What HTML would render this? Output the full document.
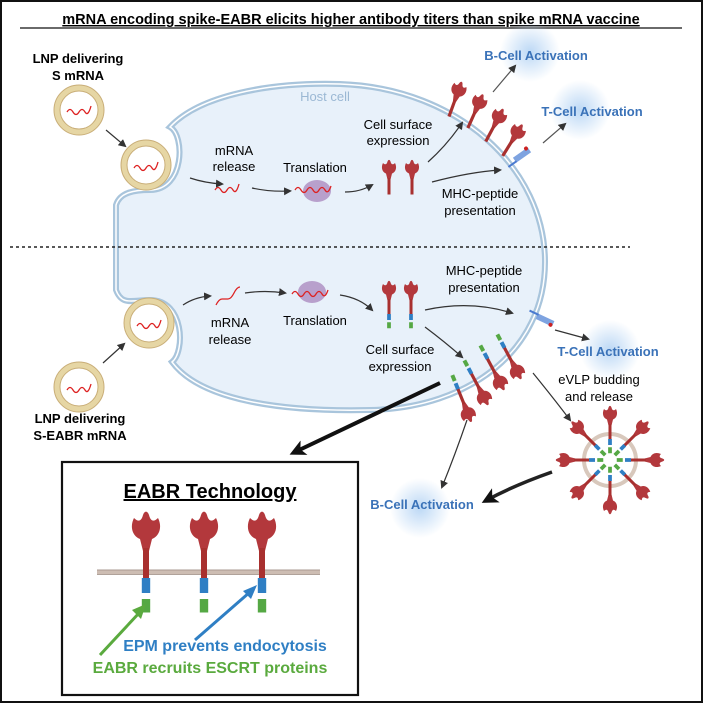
<!DOCTYPE html><html><head><meta charset="utf-8"><style>body{margin:0;background:#fff}svg{display:block}text{font-family:"Liberation Sans",sans-serif}</style></head><body>
<svg width="703" height="703" viewBox="0 0 703 703" xmlns="http://www.w3.org/2000/svg">
<defs>
<radialGradient id="gl"><stop offset="0" stop-color="#bcd8f5"/><stop offset="1" stop-color="#bcd8f5" stop-opacity="0"/></radialGradient>
<marker id="ah" markerWidth="8" markerHeight="8" refX="6" refY="4" orient="auto" markerUnits="userSpaceOnUse"><path d="M0,0L8,4L0,8z" fill="#333"/></marker>
<marker id="ahb" markerWidth="16" markerHeight="16" refX="10" refY="8" orient="auto" markerUnits="userSpaceOnUse"><path d="M0,0L16,8L0,16L4,8z" fill="#111"/></marker>
<g id="head"><path d="M-8,-20 C-11,-14 -9,-8 -4,-6 L-2,2 L2,2 L4,-6 C9,-8 11,-14 8,-20 C5,-17 3,-18 2,-22 C1,-25 -1,-25 -2,-22 C-3,-18 -5,-17 -8,-20Z" fill="#b3383c"/></g>
<g id="sp"><use href="#head"/><rect x="-2" y="0" width="4" height="22" fill="#a8302f"/></g>
<g id="spe"><use href="#head"/><rect x="-2" y="0" width="4" height="22" fill="#a8302f"/><rect x="-2.5" y="20" width="5" height="8" fill="#2f7fc4"/><rect x="-2.5" y="31" width="5" height="8" fill="#55a844"/></g>
<g id="lnp"><circle r="22" fill="#fff" stroke="#e6d6a4" stroke-width="6"/><circle r="25" fill="none" stroke="#c9ae78" stroke-width="1"/><circle r="19" fill="none" stroke="#c9ae78" stroke-width="1"/></g>
</defs>
<rect x="1" y="1" width="701" height="701" fill="#fff" stroke="#111" stroke-width="2"/>
<text x="351" y="24" font-size="14.5" font-weight="bold" text-anchor="middle" text-decoration="underline">mRNA encoding spike-EABR elicits higher antibody titers than spike mRNA vaccine</text>
<line x1="20" y1="28" x2="682" y2="28" stroke="#111" stroke-width="1.3"/>
<path id="cell" d="M170,127 C200,95 270,82 340,84 C460,88 545,170 545,262 C545,350 470,408 370,410 C280,412 200,400 172,362 C185,352 185,300 150,300 C132,300 122,306 116,290 L116,205 C120,192 135,190 150,190 C185,190 185,135 170,127Z" fill="#e8f1fa" stroke="#a9c5dc" stroke-width="6"/>
<path d="M170,127 C200,95 270,82 340,84 C460,88 545,170 545,262 C545,350 470,408 370,410 C280,412 200,400 172,362 C185,352 185,300 150,300 C132,300 122,306 116,290 L116,205 C120,192 135,190 150,190 C185,190 185,135 170,127Z" fill="none" stroke="#fff" stroke-width="1.5"/>
<line x1="10" y1="247" x2="630" y2="247" stroke="#222" stroke-width="1.5" stroke-dasharray="3,3"/>
<circle cx="530" cy="52" r="30" fill="url(#gl)"/><circle cx="580" cy="110" r="30" fill="url(#gl)"/><circle cx="610" cy="350" r="30" fill="url(#gl)"/><circle cx="420" cy="508" r="30" fill="url(#gl)"/>
<!-- top section -->
<text x="78" y="63" font-size="13" font-weight="bold" text-anchor="middle">LNP delivering</text>
<text x="78" y="80" font-size="13" font-weight="bold" text-anchor="middle">S mRNA</text>
<use href="#lnp" x="79" y="110"/>
<path d="M67,112 q3,-5 6,0 t6,0 t6,0 t6,-6" fill="none" stroke="#d22" stroke-width="1.3"/>
<line x1="106" y1="130" x2="125" y2="146" stroke="#333" stroke-width="1.2" marker-end="url(#ah)"/>
<use href="#lnp" x="146" y="165"/>
<path d="M134,168 q3,-5 6,0 t6,0 t6,0 t6,-6" fill="none" stroke="#d22" stroke-width="1.3"/>
<text x="325" y="101" font-size="13" fill="#9bb8d4" text-anchor="middle">Host cell</text>
<text x="234" y="155" font-size="13" text-anchor="middle">mRNA</text><text x="234" y="171" font-size="13" text-anchor="middle">release</text>
<path d="M190,178 Q205,183 222,184" fill="none" stroke="#333" stroke-width="1.2" marker-end="url(#ah)"/>
<path d="M215,190 q3,-5 6,0 t6,0 t6,0 t6,-6" fill="none" stroke="#d22" stroke-width="1.3"/>
<path d="M252,188 Q270,192 290,191" fill="none" stroke="#333" stroke-width="1.2" marker-end="url(#ah)"/>
<text x="315" y="172" font-size="13" text-anchor="middle">Translation</text>
<ellipse cx="317" cy="191" rx="14" ry="11" fill="#b8a0cc"/>
<path d="M295,190 q3,-5 6,0 t6,0 t6,0 t6,0 t6,0 t6,-4" fill="none" stroke="#d22" stroke-width="1.3"/>
<path d="M345,192 Q360,192 372,185" fill="none" stroke="#333" stroke-width="1.2" marker-end="url(#ah)"/>
<use href="#sp" transform="translate(389,178) scale(.75)"/><use href="#sp" transform="translate(412,178) scale(.75)"/>
<text x="398" y="129" font-size="13" text-anchor="middle">Cell surface</text><text x="398" y="145" font-size="13" text-anchor="middle">expression</text>
<path d="M428,162 Q447,145 462,123" fill="none" stroke="#333" stroke-width="1.2" marker-end="url(#ah)"/>
<use href="#sp" transform="translate(455,100) rotate(20) scale(.8)"/><use href="#sp" transform="translate(475,112) rotate(24) scale(.8)"/><use href="#sp" transform="translate(494,126) rotate(28) scale(.8)"/><use href="#sp" transform="translate(512,141) rotate(32) scale(.8)"/>
<line x1="493" y1="92" x2="515" y2="66" stroke="#555" stroke-width="1.2" marker-end="url(#ah)"/>
<text x="536" y="60" font-size="13" font-weight="bold" fill="#3a72b8" text-anchor="middle">B-Cell Activation</text>
<path d="M432,182 Q470,172 500,170" fill="none" stroke="#333" stroke-width="1.2" marker-end="url(#ah)"/>
<text x="480" y="198" font-size="13" text-anchor="middle">MHC-peptide</text><text x="480" y="215" font-size="13" text-anchor="middle">presentation</text>
<g transform="translate(522,155) rotate(-35)"><rect x="-9" y="-3" width="18" height="6" fill="#7ea3e0"/><line x1="-18" y1="2" x2="-8" y2="2" stroke="#4a7ad0" stroke-width="2"/><circle cx="7" cy="-3" r="2" fill="#c22"/></g>
<line x1="543" y1="143" x2="565" y2="124" stroke="#555" stroke-width="1.2" marker-end="url(#ah)"/>
<text x="592" y="116" font-size="13" font-weight="bold" fill="#3a72b8" text-anchor="middle">T-Cell Activation</text>
<!-- bottom section -->
<use href="#lnp" x="149" y="323"/>
<path d="M137,326 q3,-5 6,0 t6,0 t6,0 t6,-6" fill="none" stroke="#d22" stroke-width="1.3"/>
<use href="#lnp" x="79" y="387"/>
<path d="M67,390 q3,-5 6,0 t6,0 t6,0 t6,-6" fill="none" stroke="#d22" stroke-width="1.3"/>
<line x1="103" y1="363" x2="124" y2="344" stroke="#333" stroke-width="1.2" marker-end="url(#ah)"/>
<text x="80" y="423" font-size="13" font-weight="bold" text-anchor="middle">LNP delivering</text>
<text x="80" y="440" font-size="13" font-weight="bold" text-anchor="middle">S-EABR mRNA</text>
<path d="M183,305 Q195,297 210,296" fill="none" stroke="#333" stroke-width="1.2" marker-end="url(#ah)"/>
<path d="M216,305 q3,-6 6,-6 t6,0 t6,-6 t6,-6" fill="none" stroke="#d22" stroke-width="1.3"/>
<text x="230" y="327" font-size="13" text-anchor="middle">mRNA</text><text x="230" y="344" font-size="13" text-anchor="middle">release</text>
<path d="M245,293 Q265,290 285,293" fill="none" stroke="#333" stroke-width="1.2" marker-end="url(#ah)"/>
<ellipse cx="312" cy="292" rx="14" ry="11" fill="#b8a0cc"/>
<path d="M292,294 q3,-5 6,0 t6,0 t6,0 t6,0 t6,0 t6,-4" fill="none" stroke="#d22" stroke-width="1.3"/>
<text x="315" y="325" font-size="13" text-anchor="middle">Translation</text>
<path d="M340,295 Q360,298 372,310" fill="none" stroke="#333" stroke-width="1.2" marker-end="url(#ah)"/>
<use href="#spe" transform="translate(389,299) scale(.75)"/><use href="#spe" transform="translate(411,299) scale(.75)"/>
<text x="484" y="275" font-size="13" text-anchor="middle">MHC-peptide</text><text x="484" y="292" font-size="13" text-anchor="middle">presentation</text>
<path d="M425,310 Q470,300 512,313" fill="none" stroke="#333" stroke-width="1.2" marker-end="url(#ah)"/>
<g transform="translate(545,320) rotate(25)"><rect x="-9" y="-3" width="18" height="6" fill="#7ea3e0"/><line x1="-18" y1="-2" x2="-8" y2="-2" stroke="#4a7ad0" stroke-width="2"/><circle cx="7" cy="2" r="2" fill="#c22"/></g>
<line x1="555" y1="330" x2="588" y2="339" stroke="#333" stroke-width="1.2" marker-end="url(#ah)"/>
<text x="608" y="356" font-size="13" font-weight="bold" fill="#3a72b8" text-anchor="middle">T-Cell Activation</text>
<text x="400" y="354" font-size="13" text-anchor="middle">Cell surface</text><text x="400" y="371" font-size="13" text-anchor="middle">expression</text>
<path d="M425,327 Q445,342 462,357" fill="none" stroke="#333" stroke-width="1.2" marker-end="url(#ah)"/>
<use href="#spe" transform="translate(512,362) rotate(152) scale(.8)"/><use href="#spe" transform="translate(495,373) rotate(152) scale(.8)"/><use href="#spe" transform="translate(479,388) rotate(152) scale(.8)"/><use href="#spe" transform="translate(464,404) rotate(158) scale(.8)"/>
<text x="599" y="384" font-size="13" text-anchor="middle">eVLP budding</text><text x="599" y="401" font-size="13" text-anchor="middle">and release</text>
<path d="M533,373 Q555,400 570,420" fill="none" stroke="#333" stroke-width="1.2" marker-end="url(#ah)"/>
<circle cx="610" cy="460" r="26" fill="none" stroke="#d8c8bc" stroke-width="4"/>
<g transform="translate(610,460)">
<use href="#spe" transform="rotate(180) translate(0,-36) scale(.75)"/><use href="#spe" transform="rotate(225) translate(0,-36) scale(.75)"/><use href="#spe" transform="rotate(270) translate(0,-36) scale(.75)"/><use href="#spe" transform="rotate(315) translate(0,-36) scale(.75)"/><use href="#spe" transform="rotate(0) translate(0,-36) scale(.75)"/><use href="#spe" transform="rotate(45) translate(0,-36) scale(.75)"/><use href="#spe" transform="rotate(90) translate(0,-36) scale(.75)"/><use href="#spe" transform="rotate(135) translate(0,-36) scale(.75)"/>
</g>
<line x1="440" y1="383" x2="295" y2="452" stroke="#111" stroke-width="4" marker-end="url(#ahb)"/>
<path d="M467,420 Q455,455 442,487" fill="none" stroke="#333" stroke-width="1.2" marker-end="url(#ah)"/>
<path d="M552,472 Q515,485 487,500" fill="none" stroke="#222" stroke-width="3.5" marker-end="url(#ahb)"/>
<text x="422" y="509" font-size="13" font-weight="bold" fill="#3a72b8" text-anchor="middle">B-Cell Activation</text>
<!-- EABR box -->
<rect x="62" y="462" width="296" height="233" fill="#fff" stroke="#111" stroke-width="2.2"/>
<text x="210" y="498" font-size="20" font-weight="bold" text-anchor="middle" text-decoration="underline">EABR Technology</text>
<line x1="97" y1="572" x2="320" y2="572" stroke="#cdbdb3" stroke-width="5"/>
<line x1="97" y1="570" x2="320" y2="570" stroke="#9e8e84" stroke-width="0.7"/><line x1="97" y1="574.5" x2="320" y2="574.5" stroke="#9e8e84" stroke-width="0.7"/>
<g transform="translate(146,548) scale(1.5)"><use href="#head"/><rect x="-2" y="0" width="4" height="20" fill="#a8302f"/><rect x="-2.8" y="20" width="5.6" height="10" fill="#2f7fc4"/><rect x="-2.8" y="34" width="5.6" height="9" fill="#55a844"/></g>
<g transform="translate(204,548) scale(1.5)"><use href="#head"/><rect x="-2" y="0" width="4" height="20" fill="#a8302f"/><rect x="-2.8" y="20" width="5.6" height="10" fill="#2f7fc4"/><rect x="-2.8" y="34" width="5.6" height="9" fill="#55a844"/></g>
<g transform="translate(262,548) scale(1.5)"><use href="#head"/><rect x="-2" y="0" width="4" height="20" fill="#a8302f"/><rect x="-2.8" y="20" width="5.6" height="10" fill="#2f7fc4"/><rect x="-2.8" y="34" width="5.6" height="9" fill="#55a844"/></g>
<line x1="100" y1="655" x2="140" y2="612" stroke="#5aaa3e" stroke-width="3"/>
<path d="M132,610 L146,604 L141,619z" fill="#5aaa3e"/>
<line x1="195" y1="640" x2="250" y2="592" stroke="#2f7fc4" stroke-width="3"/>
<path d="M243,591 L257,585 L251,599z" fill="#2f7fc4"/>
<text x="225" y="651" font-size="16" font-weight="bold" fill="#2f7fc4" text-anchor="middle">EPM prevents endocytosis</text>
<text x="210" y="673" font-size="16" font-weight="bold" fill="#5aaa3e" text-anchor="middle">EABR recruits ESCRT proteins</text>
</svg></body></html>
